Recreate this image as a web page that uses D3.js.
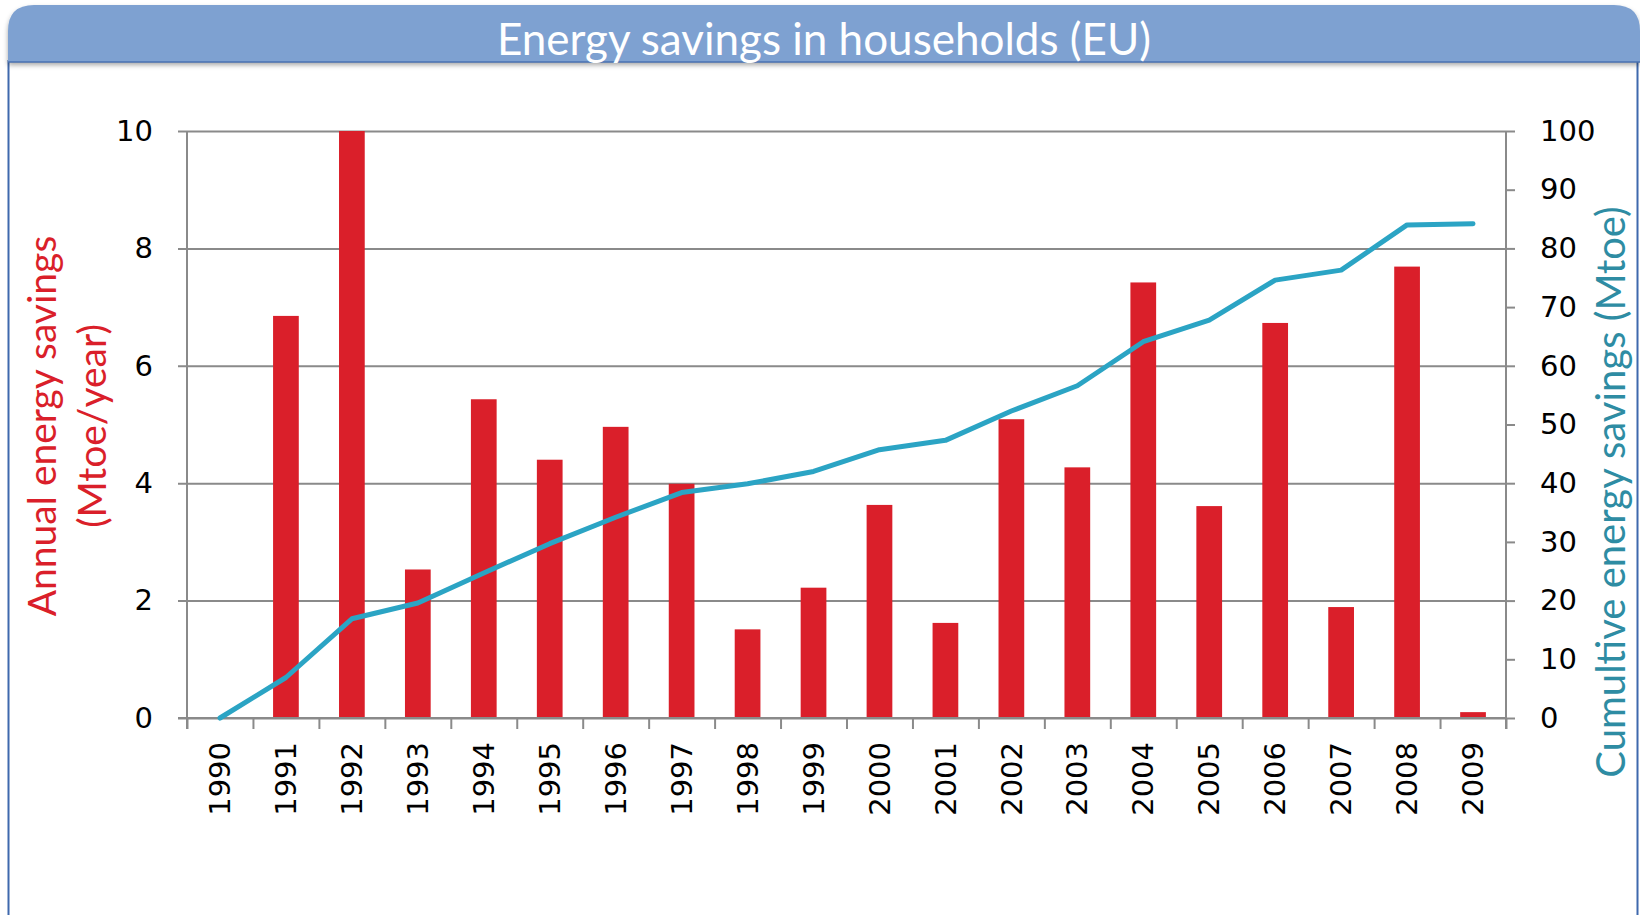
<!DOCTYPE html>
<html>
<head>
<meta charset="utf-8">
<script src="https://cdn.jsdelivr.net/npm/d3@7"></script>
<style>
  body { margin: 0; background: #fff; }
  svg { display: block; }
  .axis text { font-family: "DejaVu Sans", sans-serif; font-size: 29px; fill: #000; }
  .axis line, .axis path { stroke: #8a8a8a; stroke-width: 2; }
</style>
</head>
<body>
<div id="chart"></div>
<script>
const years = ["1990", "1991", "1992", "1993", "1994", "1995", "1996", "1997", "1998", "1999",
  "2000", "2001", "2002", "2003", "2004", "2005", "2006", "2007", "2008", "2009"];
const annualSavings = [0, 6.85, 10.0, 2.53, 5.43, 4.40, 4.96, 3.99, 1.51, 2.22,
  3.63, 1.62, 5.09, 4.27, 7.42, 3.61, 6.73, 1.89, 7.69, 0.10];
const cumulativeSavings = [0, 6.9, 16.9, 19.6, 24.7, 29.7, 34.2, 38.4, 39.9, 42.0,
  45.7, 47.3, 52.3, 56.6, 64.1, 67.8, 74.6, 76.3, 84.0, 84.2];
const leftTicks = [0, 2, 4, 6, 8, 10];
const rightTicks = [0, 10, 20, 30, 40, 50, 60, 70, 80, 90, 100];

const barColor = "#da1f2a";
const lineColor = "#2ba4c4";

const W = 1640, H = 915;
const margin = {top: 131, right: 134, bottom: 197, left: 187};
const width = W - margin.left - margin.right,
  height = H - margin.top - margin.bottom;

const svg = d3.select("#chart").append("svg")
  .attr("width", W).attr("height", H);

// header bar shadow
const defs = svg.append("defs");
const f = defs.append("filter").attr("id", "shadow").attr("x", "-5%").attr("y", "-20%").attr("width", "110%").attr("height", "150%");
f.append("feDropShadow").attr("dx", 0).attr("dy", 3).attr("stdDeviation", 2.5).attr("flood-color", "#000").attr("flood-opacity", 0.35);

// panel borders
svg.append("line").attr("x1", 8.5).attr("x2", 8.5).attr("y1", 60).attr("y2", H)
  .attr("stroke", "#3f69ad").attr("stroke-width", 2);
svg.append("line").attr("x1", 1637.5).attr("x2", 1637.5).attr("y1", 60).attr("y2", H)
  .attr("stroke", "#3f69ad").attr("stroke-width", 2);

const r = 26, bx0 = 8, bx1 = 1640, by0 = 5, by1 = 62;
svg.append("path")
  .attr("d", `M${bx0},${by1} L${bx0},${by0 + r} Q${bx0},${by0} ${bx0 + r},${by0} L${bx1 - r},${by0} Q${bx1},${by0} ${bx1},${by0 + r} L${bx1},${by1} Z`)
  .attr("fill", "#7ea1d1")
  .attr("filter", "url(#shadow)");
svg.append("line").attr("x1", bx0).attr("x2", bx1).attr("y1", by1).attr("y2", by1)
  .attr("stroke", "#4a72b2").attr("stroke-width", 1.5);

svg.append("text")
  .attr("x", 824).attr("y", 38)
  .attr("text-anchor", "middle").attr("dominant-baseline", "central")
  .style("font-family", "Lato, sans-serif").style("font-size", "44px").style("fill", "#fff")
  .text("Energy savings in households (EU)");

const g = svg.append("g").attr("transform", `translate(${margin.left},${margin.top})`);

// scales
const x = d3.scaleBand().domain(years).range([0, width]).paddingInner(0.61).paddingOuter(0.305);
const xEdge = d3.scaleLinear().domain([0, years.length]).range([0, width]);
const yL = d3.scaleLinear().domain([0, 10]).range([height, 0]);
const yR = d3.scaleLinear().domain([0, 100]).range([height, 0]);

// left axis + gridlines
g.append("g").attr("class", "axis yLeft")
  .call(d3.axisLeft(yL).tickValues(leftTicks).tickSize(-width).tickPadding(34).tickFormat(d => d))
  .call(a => a.select(".domain").remove())
  .call(a => a.selectAll(".tick line").attr("x1", -9));

// left axis line
g.append("line").attr("x1", 0).attr("x2", 0).attr("y1", 0).attr("y2", height + 11)
  .attr("stroke", "#8a8a8a").attr("stroke-width", 2);

// right axis
g.append("g").attr("class", "axis yRight")
  .attr("transform", `translate(${width},0)`)
  .call(d3.axisRight(yR).tickValues(rightTicks).tickSize(9).tickPadding(25).tickFormat(d => d))
  .call(a => a.select(".domain").attr("d", `M0,0V${height + 11}`));

// bars
g.selectAll("rect.bar").data(annualSavings).enter().append("rect")
  .attr("class", "bar")
  .attr("x", (d, i) => x(years[i]))
  .attr("width", x.bandwidth())
  .attr("y", d => yL(d))
  .attr("height", d => height - yL(d))
  .attr("fill", barColor);

// x axis boundary ticks
g.append("g").attr("class", "axis xTicks")
  .attr("transform", `translate(0,${height})`)
  .call(d3.axisBottom(xEdge).ticks(years.length).tickSize(11).tickFormat(""))
  .call(a => a.select(".domain").attr("d", `M-9,0H${width}`));

// x labels
g.append("g").attr("class", "axis xLabels")
  .attr("transform", `translate(0,${height})`)
  .call(d3.axisBottom(x).tickSize(0).tickPadding(0))
  .call(a => a.select(".domain").remove())
  .call(a => a.selectAll("text")
    .attr("transform", "rotate(-90)")
    .attr("x", -24).attr("y", 0).attr("dy", "0.35em")
    .attr("text-anchor", "end"));

// cumulative line
const line = d3.line()
  .x((d, i) => x(years[i]) + x.bandwidth() / 2)
  .y(d => yR(d));
g.append("path").datum(cumulativeSavings)
  .attr("d", line)
  .attr("fill", "none")
  .attr("stroke", lineColor)
  .attr("stroke-width", 5)
  .attr("stroke-linejoin", "round")
  .attr("stroke-linecap", "round");

// axis titles
const leftTitle = svg.append("text")
  .attr("transform", `translate(42,426) rotate(-90)`)
  .attr("text-anchor", "middle")
  .style("font-family", "Lato, sans-serif").style("font-size", "39px").style("fill", barColor);
leftTitle.append("tspan").attr("x", 0).attr("dy", "0.35em").text("Annual energy savings");
leftTitle.append("tspan").attr("x", 0).attr("dy", "1.28em").text("(Mtoe/year)");

svg.append("text")
  .attr("transform", `translate(1611,492) rotate(-90)`)
  .attr("text-anchor", "middle").attr("dy", "0.35em")
  .style("font-family", "Lato, sans-serif").style("font-size", "40px").style("fill", "#2e8ca3")
  .text("Cumultive energy savings (Mtoe)");
</script>
</body>
</html>
